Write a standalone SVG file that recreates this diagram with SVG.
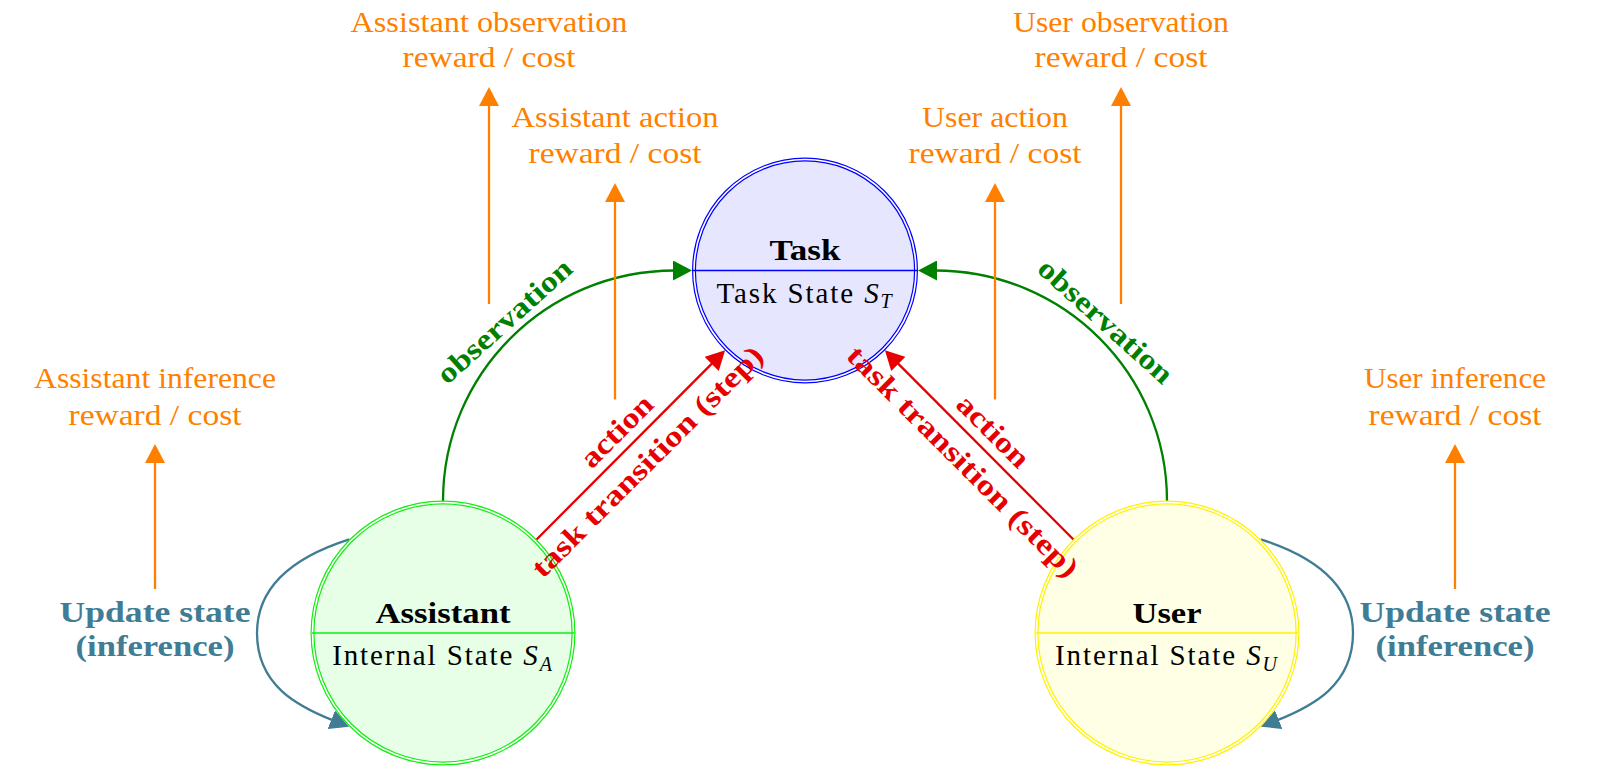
<svg xmlns="http://www.w3.org/2000/svg" width="1610" height="767" viewBox="0 0 1610 767">
<defs>
<style>
text{font-family:"Liberation Serif","Times New Roman",serif;font-size:29px;text-anchor:middle}
.b{font-weight:bold}
.or{fill:#ff8000}
.gr{fill:#008000}
.rd{fill:#e60000}
.tl{fill:#407c94}
.bk{fill:#000}
.ln{fill:none;stroke-width:2.3}
.lor{stroke:#ff8000}
.lgr{stroke:#008000}
.lrd{stroke:#e60000}
.ltl{stroke:#407c94}
.st{letter-spacing:1.9px}
</style>
<marker id="aor" markerUnits="userSpaceOnUse" markerWidth="19" markerHeight="20" refX="2" refY="10" orient="auto"><path d="M0,0 L19,10 L0,20 z" fill="#ff8000"/></marker>
<marker id="agr" markerUnits="userSpaceOnUse" markerWidth="19" markerHeight="20" refX="2" refY="10" orient="auto"><path d="M0,0 L19,10 L0,20 z" fill="#008000"/></marker>
<marker id="ard" markerUnits="userSpaceOnUse" markerWidth="19" markerHeight="20" refX="2" refY="10" orient="auto"><path d="M0,0 L19,10 L0,20 z" fill="#e60000"/></marker>
<marker id="atl" markerUnits="userSpaceOnUse" markerWidth="19" markerHeight="20" refX="2" refY="10" orient="auto"><path d="M0,0 L19,10 L0,20 z" fill="#407c94"/></marker>
</defs>
<rect width="1610" height="767" fill="#fff"/>

<g id="connectors">
<path class="ln lgr" d="M443,501 C443,374 546,270.5 675,270.5" marker-end="url(#agr)"/>
<path class="ln lgr" d="M1167,501 C1167,374 1064,270.5 935,270.5" marker-end="url(#agr)"/>
<path class="ln lrd" d="M536.3,539.7 L713.1,362.4" marker-end="url(#ard)"/>
<path class="ln lrd" d="M1073.7,539.7 L896.9,362.4" marker-end="url(#ard)"/>
<path class="ln ltl" d="M349.3,539.3 C303,554 257,580 257,633 C257,685 297,706 333.2,720.4" marker-end="url(#atl)"/>
<path class="ln ltl" d="M1260.7,539.3 C1307,554 1353,580 1353,633 C1353,685 1313,706 1276.8,720.4" marker-end="url(#atl)"/>
<path class="ln lor" d="M489,304 L489,104" marker-end="url(#aor)"/>
<path class="ln lor" d="M615,399.5 L615,200" marker-end="url(#aor)"/>
<path class="ln lor" d="M1121,304 L1121,104" marker-end="url(#aor)"/>
<path class="ln lor" d="M995,399.5 L995,200" marker-end="url(#aor)"/>
<path class="ln lor" d="M155,589 L155,461" marker-end="url(#aor)"/>
<path class="ln lor" d="M1455,589 L1455,461" marker-end="url(#aor)"/>
</g>

<g id="task">
<circle cx="805" cy="270.5" r="111" fill="#e6e6ff" stroke="#0000ff" stroke-width="4"/>
<circle cx="805" cy="270.5" r="111" fill="none" stroke="#fff" stroke-width="1.6"/>
<line x1="693" y1="270.5" x2="917" y2="270.5" stroke="#0000ff" stroke-width="1.3"/>
<text class="b bk" x="805" y="260" textLength="71" lengthAdjust="spacingAndGlyphs">Task</text>
<text class="bk st" x="805" y="302.7">Task State <tspan font-style="italic">S</tspan><tspan font-style="italic" font-size="20" dy="5.5">T</tspan></text>
</g>

<g id="assistant">
<circle cx="443" cy="633" r="130.5" fill="#e6ffe6" stroke="#11ee11" stroke-width="4"/>
<circle cx="443" cy="633" r="130.5" fill="none" stroke="#fff" stroke-width="1.6"/>
<line x1="312" y1="633" x2="574" y2="633" stroke="#11ee11" stroke-width="1.3"/>
<text class="b bk" x="443" y="622.5" textLength="135" lengthAdjust="spacingAndGlyphs">Assistant</text>
<text class="bk st" x="443" y="665">Internal State <tspan font-style="italic">S</tspan><tspan font-style="italic" font-size="20" dy="5.5">A</tspan></text>
</g>

<g id="user">
<circle cx="1167" cy="633" r="130.5" fill="#ffffe6" stroke="#fff200" stroke-width="4"/>
<circle cx="1167" cy="633" r="130.5" fill="none" stroke="#fff" stroke-width="1.6"/>
<line x1="1036" y1="633" x2="1298" y2="633" stroke="#fff200" stroke-width="1.3"/>
<text class="b bk" x="1167" y="622.5" textLength="69" lengthAdjust="spacingAndGlyphs">User</text>
<text class="bk st" x="1167" y="665">Internal State <tspan font-style="italic">S</tspan><tspan font-style="italic" font-size="20" dy="5.5">U</tspan></text>
</g>

<g id="edge-labels">
<text class="b gr" transform="translate(510.8,328.3) rotate(-42)" textLength="171" lengthAdjust="spacingAndGlyphs">observation</text>
<text class="b gr" transform="translate(1099.2,328.3) rotate(42)" textLength="171" lengthAdjust="spacingAndGlyphs">observation</text>
<text class="b rd" transform="translate(623.6,437.9) rotate(-45)" textLength="90" lengthAdjust="spacingAndGlyphs">action</text>
<text class="b rd" transform="translate(654,468.3) rotate(-45)" textLength="314" lengthAdjust="spacingAndGlyphs">task transition (step)</text>
<text class="b rd" transform="translate(986.4,437.9) rotate(45)" textLength="90" lengthAdjust="spacingAndGlyphs">action</text>
<text class="b rd" transform="translate(956,468.3) rotate(45)" textLength="314" lengthAdjust="spacingAndGlyphs">task transition (step)</text>
</g>

<g id="assistant-update">
<text class="b tl" x="155" y="622" textLength="191" lengthAdjust="spacingAndGlyphs">Update state</text>
<text class="b tl" x="155" y="656" textLength="159" lengthAdjust="spacingAndGlyphs">(inference)</text>
</g>
<g id="user-update">
<text class="b tl" x="1455" y="622" textLength="191" lengthAdjust="spacingAndGlyphs">Update state</text>
<text class="b tl" x="1455" y="656" textLength="159" lengthAdjust="spacingAndGlyphs">(inference)</text>
</g>

<g id="assistant-observation-reward">
<text class="or" x="489" y="31.7" textLength="277" lengthAdjust="spacingAndGlyphs">Assistant observation</text>
<text class="or" x="489" y="66.7" textLength="173" lengthAdjust="spacingAndGlyphs">reward / cost</text>
</g>
<g id="assistant-action-reward">
<text class="or" x="615" y="126.7" textLength="207" lengthAdjust="spacingAndGlyphs">Assistant action</text>
<text class="or" x="615" y="163.3" textLength="173" lengthAdjust="spacingAndGlyphs">reward / cost</text>
</g>
<g id="user-action-reward">
<text class="or" x="995" y="126.7" textLength="146" lengthAdjust="spacingAndGlyphs">User action</text>
<text class="or" x="995" y="163.3" textLength="173" lengthAdjust="spacingAndGlyphs">reward / cost</text>
</g>
<g id="user-observation-reward">
<text class="or" x="1121" y="31.7" textLength="216" lengthAdjust="spacingAndGlyphs">User observation</text>
<text class="or" x="1121" y="66.7" textLength="173" lengthAdjust="spacingAndGlyphs">reward / cost</text>
</g>
<g id="assistant-inference-reward">
<text class="or" x="155" y="388.3" textLength="242" lengthAdjust="spacingAndGlyphs">Assistant inference</text>
<text class="or" x="155" y="425" textLength="173" lengthAdjust="spacingAndGlyphs">reward / cost</text>
</g>
<g id="user-inference-reward">
<text class="or" x="1455" y="388.3" textLength="182" lengthAdjust="spacingAndGlyphs">User inference</text>
<text class="or" x="1455" y="425" textLength="173" lengthAdjust="spacingAndGlyphs">reward / cost</text>
</g>
</svg>
